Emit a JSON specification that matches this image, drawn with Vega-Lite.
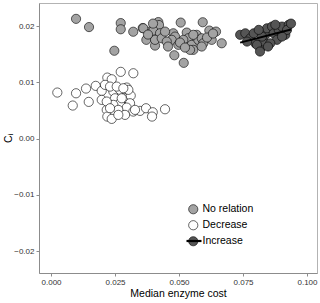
{
  "$schema": "https://vega.github.io/schema/vega-lite/v6.json",
  "autosize": {"type": "none"},
  "padding": {"left": 39, "top": 3, "right": 3, "bottom": 30},
  "width": 278,
  "height": 270,
  "config": {
    "font": "Liberation Sans",
    "view": {"stroke": "#b3b3b3", "strokeWidth": 1},
    "axis": {
      "grid": false,
      "domainColor": "#8c8c8c",
      "tickColor": "#8c8c8c",
      "tickSize": 3,
      "labelFontSize": 8,
      "labelColor": "#333333",
      "titleFontSize": 10.5,
      "titleFontWeight": "normal",
      "titleColor": "#000000"
    }
  },
  "datasets": {
    "pts": [
      {"x": 0.00977, "y": 0.02128, "g": "No relation"},
      {"x": 0.01484, "y": 0.01982, "g": "No relation"},
      {"x": 0.02723, "y": 0.02053, "g": "No relation"},
      {"x": 0.02723, "y": 0.01943, "g": "No relation"},
      {"x": 0.02473, "y": 0.01561, "g": "No relation"},
      {"x": 0.03211, "y": 0.01899, "g": "No relation"},
      {"x": 0.03582, "y": 0.01964, "g": "No relation"},
      {"x": 0.03723, "y": 0.01755, "g": "No relation"},
      {"x": 0.03867, "y": 0.01902, "g": "No relation"},
      {"x": 0.04063, "y": 0.01653, "g": "No relation"},
      {"x": 0.04191, "y": 0.02071, "g": "No relation"},
      {"x": 0.04219, "y": 0.02018, "g": "No relation"},
      {"x": 0.03996, "y": 0.0192, "g": "No relation"},
      {"x": 0.04258, "y": 0.01872, "g": "No relation"},
      {"x": 0.04063, "y": 0.01755, "g": "No relation"},
      {"x": 0.04324, "y": 0.01783, "g": "No relation"},
      {"x": 0.05066, "y": 0.02062, "g": "No relation"},
      {"x": 0.05926, "y": 0.02068, "g": "No relation"},
      {"x": 0.04777, "y": 0.01872, "g": "No relation"},
      {"x": 0.04844, "y": 0.01813, "g": "No relation"},
      {"x": 0.04715, "y": 0.01755, "g": "No relation"},
      {"x": 0.04973, "y": 0.01666, "g": "No relation"},
      {"x": 0.05301, "y": 0.01884, "g": "No relation"},
      {"x": 0.05363, "y": 0.01783, "g": "No relation"},
      {"x": 0.05168, "y": 0.01755, "g": "No relation"},
      {"x": 0.05496, "y": 0.01666, "g": "No relation"},
      {"x": 0.05559, "y": 0.01577, "g": "No relation"},
      {"x": 0.05691, "y": 0.01844, "g": "No relation"},
      {"x": 0.05754, "y": 0.01755, "g": "No relation"},
      {"x": 0.05887, "y": 0.01783, "g": "No relation"},
      {"x": 0.05949, "y": 0.01694, "g": "No relation"},
      {"x": 0.05887, "y": 0.01636, "g": "No relation"},
      {"x": 0.06184, "y": 0.0192, "g": "No relation"},
      {"x": 0.06445, "y": 0.01902, "g": "No relation"},
      {"x": 0.06277, "y": 0.01755, "g": "No relation"},
      {"x": 0.06668, "y": 0.01694, "g": "No relation"},
      {"x": 0.04816, "y": 0.01481, "g": "No relation"},
      {"x": 0.05184, "y": 0.01346, "g": "No relation"},
      {"x": 0.0452, "y": 0.01724, "g": "No relation"},
      {"x": 0.05039, "y": 0.01707, "g": "No relation"},
      {"x": 0.0543, "y": 0.01577, "g": "No relation"},
      {"x": 0.03605, "y": 0.01961, "g": "No relation"},
      {"x": 0.03984, "y": 0.02044, "g": "No relation"},
      {"x": 0.03789, "y": 0.01849, "g": "No relation"},
      {"x": 0.04453, "y": 0.01902, "g": "No relation"},
      {"x": 0.05559, "y": 0.01844, "g": "No relation"},
      {"x": 0.06094, "y": 0.01796, "g": "No relation"},
      {"x": 0.06328, "y": 0.01867, "g": "No relation"},
      {"x": 0.0457, "y": 0.01636, "g": "No relation"},
      {"x": 0.05234, "y": 0.01618, "g": "No relation"},
      {"x": 0.00246, "y": 0.00818, "g": "Decrease"},
      {"x": 0.00977, "y": 0.00805, "g": "Decrease"},
      {"x": 0.00848, "y": 0.00587, "g": "Decrease"},
      {"x": 0.01367, "y": 0.00889, "g": "Decrease"},
      {"x": 0.01473, "y": 0.00652, "g": "Decrease"},
      {"x": 0.01746, "y": 0.00937, "g": "Decrease"},
      {"x": 0.0198, "y": 0.00848, "g": "Decrease"},
      {"x": 0.02199, "y": 0.01084, "g": "Decrease"},
      {"x": 0.02371, "y": 0.01054, "g": "Decrease"},
      {"x": 0.02723, "y": 0.01186, "g": "Decrease"},
      {"x": 0.03215, "y": 0.01161, "g": "Decrease"},
      {"x": 0.0198, "y": 0.00688, "g": "Decrease"},
      {"x": 0.02176, "y": 0.0051, "g": "Decrease"},
      {"x": 0.02199, "y": 0.00391, "g": "Decrease"},
      {"x": 0.02371, "y": 0.0035, "g": "Decrease"},
      {"x": 0.02434, "y": 0.00836, "g": "Decrease"},
      {"x": 0.025, "y": 0.00716, "g": "Decrease"},
      {"x": 0.02695, "y": 0.00866, "g": "Decrease"},
      {"x": 0.02957, "y": 0.00907, "g": "Decrease"},
      {"x": 0.0289, "y": 0.00716, "g": "Decrease"},
      {"x": 0.03113, "y": 0.00764, "g": "Decrease"},
      {"x": 0.03086, "y": 0.00628, "g": "Decrease"},
      {"x": 0.02695, "y": 0.00628, "g": "Decrease"},
      {"x": 0.02434, "y": 0.00599, "g": "Decrease"},
      {"x": 0.02957, "y": 0.00551, "g": "Decrease"},
      {"x": 0.03215, "y": 0.0048, "g": "Decrease"},
      {"x": 0.03477, "y": 0.00492, "g": "Decrease"},
      {"x": 0.03711, "y": 0.00539, "g": "Decrease"},
      {"x": 0.03973, "y": 0.00468, "g": "Decrease"},
      {"x": 0.03945, "y": 0.00391, "g": "Decrease"},
      {"x": 0.02109, "y": 0.00955, "g": "Decrease"},
      {"x": 0.02305, "y": 0.00924, "g": "Decrease"},
      {"x": 0.02566, "y": 0.00924, "g": "Decrease"},
      {"x": 0.02176, "y": 0.00658, "g": "Decrease"},
      {"x": 0.02629, "y": 0.0051, "g": "Decrease"},
      {"x": 0.02762, "y": 0.00716, "g": "Decrease"},
      {"x": 0.02305, "y": 0.00539, "g": "Decrease"},
      {"x": 0.0289, "y": 0.00421, "g": "Decrease"},
      {"x": 0.04453, "y": 0.00521, "g": "Decrease"},
      {"x": 0.03281, "y": 0.0051, "g": "Decrease"},
      {"x": 0.02629, "y": 0.00421, "g": "Decrease"},
      {"x": 0.0302, "y": 0.00866, "g": "Decrease"},
      {"x": 0.02824, "y": 0.00894, "g": "Decrease"},
      {"x": 0.07387, "y": 0.01844, "g": "Increase"},
      {"x": 0.0759, "y": 0.01872, "g": "Increase"},
      {"x": 0.07785, "y": 0.01783, "g": "Increase"},
      {"x": 0.07918, "y": 0.01872, "g": "Increase"},
      {"x": 0.0798, "y": 0.01694, "g": "Increase"},
      {"x": 0.08176, "y": 0.01605, "g": "Increase"},
      {"x": 0.08309, "y": 0.01724, "g": "Increase"},
      {"x": 0.08371, "y": 0.01844, "g": "Increase"},
      {"x": 0.08438, "y": 0.01961, "g": "Increase"},
      {"x": 0.08633, "y": 0.01991, "g": "Increase"},
      {"x": 0.08699, "y": 0.01872, "g": "Increase"},
      {"x": 0.08828, "y": 0.01755, "g": "Increase"},
      {"x": 0.08895, "y": 0.01932, "g": "Increase"},
      {"x": 0.09023, "y": 0.01991, "g": "Increase"},
      {"x": 0.09152, "y": 0.01844, "g": "Increase"},
      {"x": 0.09285, "y": 0.02023, "g": "Increase"},
      {"x": 0.09219, "y": 0.01932, "g": "Increase"},
      {"x": 0.08566, "y": 0.01694, "g": "Increase"},
      {"x": 0.08242, "y": 0.01813, "g": "Increase"},
      {"x": 0.08113, "y": 0.01932, "g": "Increase"},
      {"x": 0.08762, "y": 0.02023, "g": "Increase"},
      {"x": 0.09023, "y": 0.01813, "g": "Increase"},
      {"x": 0.07656, "y": 0.01724, "g": "Increase"},
      {"x": 0.08047, "y": 0.01666, "g": "Increase"},
      {"x": 0.09375, "y": 0.02044, "g": "Increase"},
      {"x": 0.08164, "y": 0.01547, "g": "Increase"},
      {"x": 0.08477, "y": 0.01636, "g": "Increase"}
    ]
  },
  "data": {"name": "pts"},
  "layer": [
    {
      "mark": {"type": "point", "shape": "circle", "filled": true, "stroke": "#000000", "strokeWidth": 0.6, "size": 85, "opacity": 1},
      "encoding": {
        "x": {
          "field": "x", "type": "quantitative",
          "scale": {"domain": [-0.0047, 0.1039], "nice": false, "zero": false},
          "axis": {"values": [0, 0.025, 0.05, 0.075, 0.1], "format": ".3f", "title": "Median enzyme cost", "titlePadding": 2}
        },
        "y": {
          "field": "y", "type": "quantitative",
          "scale": {"domain": [-0.0239, 0.0241], "nice": false, "zero": false},
          "axis": {"values": [-0.02, -0.01, 0, 0.01, 0.02], "format": ".2f", "title": "Cᵢ", "titlePadding": 0}
        },
        "fill": {
          "field": "g", "type": "nominal",
          "scale": {"domain": ["No relation", "Decrease", "Increase"], "range": ["#a3a3a3", "#ffffff", "#555555"]},
          "legend": {
            "title": null,
            "orient": "none",
            "legendX": 149,
            "legendY": 201,
            "labelFontSize": 10.5,
            "labelColor": "#000000",
            "symbolSize": 85,
            "symbolStrokeColor": "#000000",
            "symbolStrokeWidth": 0.6,
            "rowPadding": 3,
            "labelOffset": 4
          }
        }
      }
    },
    {
      "transform": [
        {"filter": "datum.g === 'Increase'"},
        {"regression": "y", "on": "x"}
      ],
      "mark": {"type": "line", "strokeWidth": 2},
      "encoding": {
        "x": {"field": "x", "type": "quantitative"},
        "y": {"field": "y", "type": "quantitative"},
        "stroke": {
          "datum": "Increase",
          "scale": {"range": ["#000000"]},
          "legend": {
            "title": null,
            "orient": "none",
            "legendX": 146,
            "legendY": 229,
            "symbolType": "stroke",
            "symbolSize": 225,
            "symbolStrokeWidth": 2.2,
            "labelFontSize": 10.5,
            "labelExpr": "''",
            "labelOffset": 4
          }
        }
      }
    }
  ]
}
